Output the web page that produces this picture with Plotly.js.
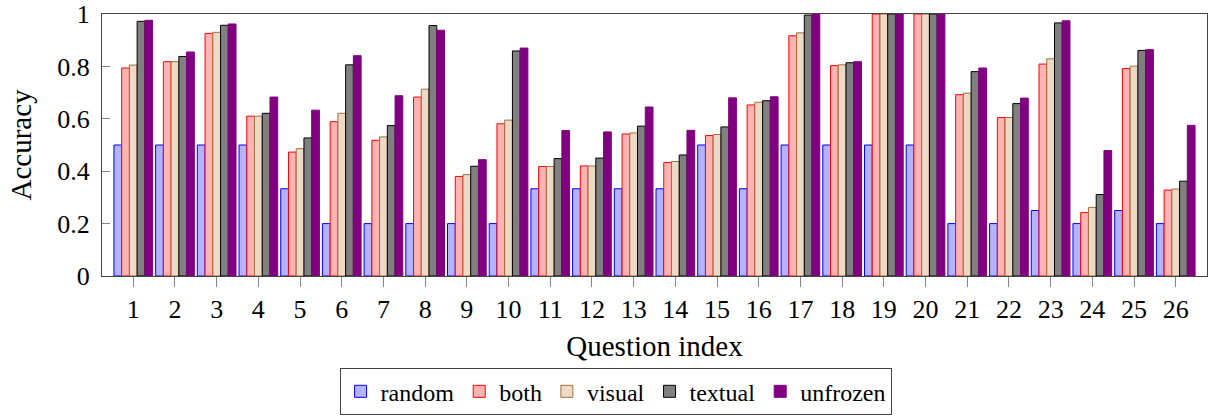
<!DOCTYPE html>
<html>
<head>
<meta charset="utf-8">
<script src="https://cdn.plot.ly/plotly-3.0.1.min.js"></script>
<style>
  html, body { margin: 0; padding: 0; background: #fff; }
  #chart { width: 1209px; height: 417px; }
  #fontwarm { position: absolute; left: 0; top: 0; font-family: 'Liberation Serif'; font-size: 26px; color: rgba(255,255,255,0); pointer-events: none; }
</style>
</head>
<body>
<div id="fontwarm">Accuracy 0.8</div>
<div id="chart"></div>
<script>
const questions = [1,2,3,4,5,6,7,8,9,10,11,12,13,14,15,16,17,18,19,20,21,22,23,24,25,26];
const seriesNames = ["random", "both", "visual", "textual", "unfrozen"];
const random   = [0.5,0.5,0.5,0.5,0.333,0.2,0.2,0.2,0.2,0.2,0.333,0.333,0.333,0.333,0.5,0.333,0.5,0.5,0.5,0.5,0.2,0.2,0.25,0.2,0.25,0.2];
const both     = [0.794,0.818,0.926,0.610,0.473,0.589,0.518,0.683,0.380,0.581,0.418,0.420,0.542,0.433,0.536,0.653,0.917,0.803,1.0,1.0,0.692,0.605,0.809,0.242,0.792,0.328];
const visual   = [0.805,0.818,0.930,0.610,0.486,0.621,0.531,0.713,0.387,0.595,0.418,0.420,0.546,0.437,0.540,0.663,0.928,0.806,1.0,1.0,0.698,0.605,0.829,0.262,0.801,0.332];
const textual  = [0.972,0.838,0.957,0.621,0.527,0.806,0.574,0.956,0.419,0.859,0.448,0.450,0.572,0.462,0.569,0.669,0.996,0.814,1.0,1.0,0.780,0.658,0.966,0.311,0.861,0.362];
const unfrozen = [0.976,0.855,0.962,0.683,0.633,0.841,0.688,0.938,0.444,0.870,0.555,0.550,0.645,0.556,0.680,0.684,1.0,0.818,1.0,1.0,0.794,0.679,0.974,0.479,0.864,0.575];
const yTicks = [0, 0.2, 0.4, 0.6, 0.8, 1];
const yTickLabels = ["0", "0.2", "0.4", "0.6", "0.8", "1"];

const values = [random, both, visual, textual, unfrozen];
const fills = ["#b3b3ff", "#ffb3b3", "#ecd9c6", "#808080", "#800080"];
const edges = ["#0000ff", "#ff0000", "#a0703f", "#000000", "#800080"];

const traces = seriesNames.map((name, i) => ({
  type: "bar",
  name: name,
  x: questions,
  y: values[i],
  marker: { color: fills[i], line: { color: edges[i], width: 1 } },
  cliponaxis: false,
  hoverinfo: "skip"
}));

const fam = "Liberation Serif";
const layout = {
  width: 1209, height: 417,
  margin: { l: 102, r: 2, t: 14, b: 138 },
  paper_bgcolor: "#fff", plot_bgcolor: "#fff",
  font: { family: fam, size: 26, color: "#000" },
  barmode: "group",
  bargap: 0.072,
  bargroupgap: 0,
  showlegend: true,
  legend: {
    orientation: "h",
    x: 0.215, xanchor: "left",
    y: -0.352, yanchor: "top",
    bordercolor: "#444", borderwidth: 1,
    font: { family: fam, size: 24, color: "#000" },
    itemwidth: 30,
    tracegroupgap: 0,
    traceorder: "normal"
  },
  xaxis: {
    range: [0.25, 26.75],
    tickmode: "array", tickvals: questions, ticktext: questions.map(String),
    ticks: "outside", ticklen: 10, tickcolor: "#888", tickwidth: 1,
    showline: true, linecolor: "#444", linewidth: 1, mirror: true,
    showgrid: false, zeroline: false,
    tickfont: { family: fam, size: 26, color: "#000" },
    title: { text: "Question index", font: { family: fam, size: 29, color: "#000" }, standoff: 12 }
  },
  yaxis: {
    range: [0, 1],
    tickmode: "array", tickvals: yTicks, ticktext: yTickLabels,
    ticks: "inside", ticklen: 8, tickcolor: "#888", tickwidth: 1,
    ticklabelstandoff: 6,
    showline: true, linecolor: "#444", linewidth: 1, mirror: true,
    showgrid: false, zeroline: false,
    tickfont: { family: fam, size: 26, color: "#000" },
    title: { text: "Accuracy", font: { family: fam, size: 29, color: "#000" }, standoff: 17 }
  }
};

const config = { staticPlot: true, displayModeBar: false };
function draw() {
  return Plotly.newPlot("chart", traces, layout, config);
}
const fontReady = (document.fonts && document.fonts.load)
  ? document.fonts.load("26px 'Liberation Serif'").catch(() => null)
  : Promise.resolve();
fontReady.then(draw).then(() => {
  setTimeout(() => { Plotly.react("chart", traces, layout, config); }, 50);
});
</script>
</body>
</html>
